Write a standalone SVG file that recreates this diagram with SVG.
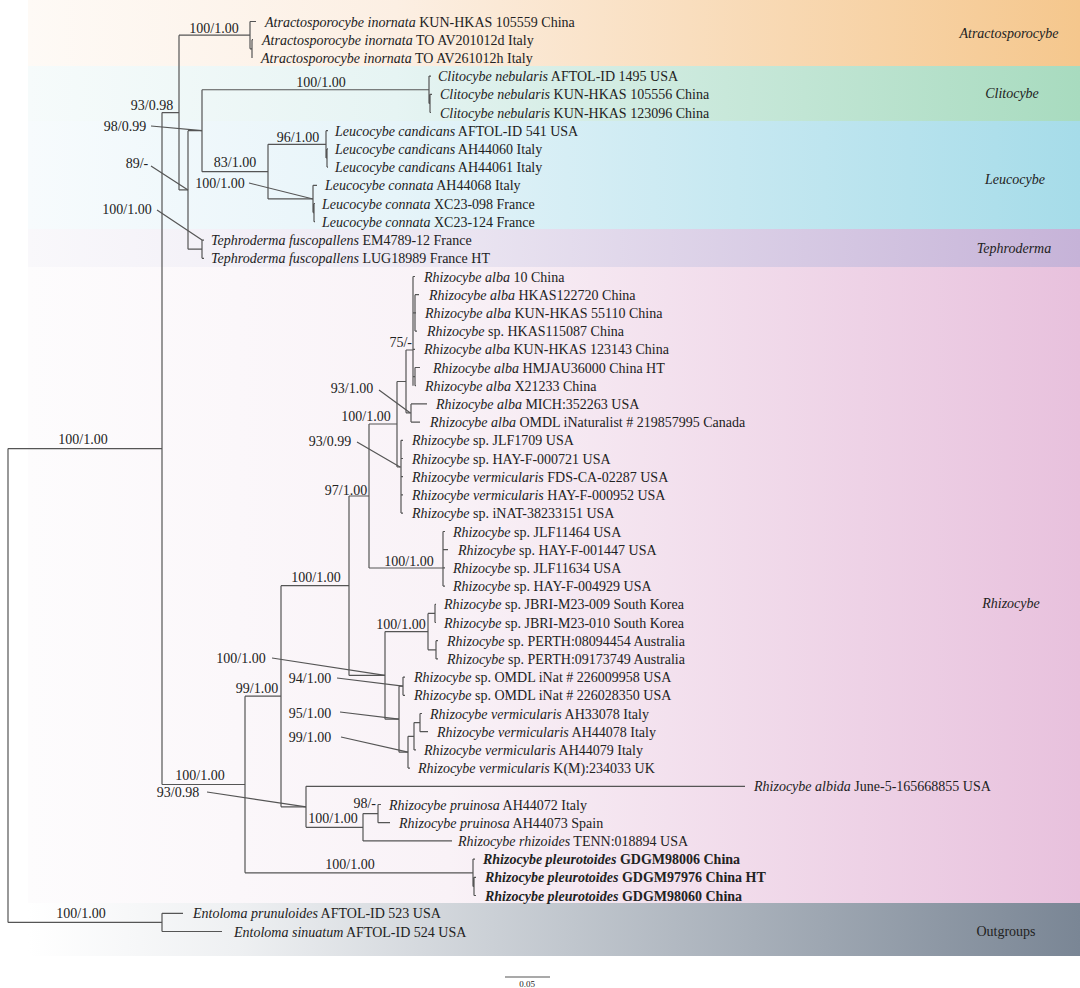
<svg xmlns="http://www.w3.org/2000/svg" width="1080" height="988" viewBox="0 0 1080 988">
<defs>
<linearGradient id="gA" x1="0" x2="1" y1="0" y2="0"><stop offset="0" stop-color="#fefaf6"/><stop offset="0.35" stop-color="#fcefe3"/><stop offset="1" stop-color="#f5c78d"/></linearGradient>
<linearGradient id="gC" x1="0" x2="1" y1="0" y2="0"><stop offset="0" stop-color="#f6fbfb"/><stop offset="0.35" stop-color="#e6f4f3"/><stop offset="1" stop-color="#a8dbbf"/></linearGradient>
<linearGradient id="gL" x1="0" x2="1" y1="0" y2="0"><stop offset="0" stop-color="#f7fbfd"/><stop offset="0.35" stop-color="#e6f4f9"/><stop offset="1" stop-color="#a6dce9"/></linearGradient>
<linearGradient id="gT" x1="0" x2="1" y1="0" y2="0"><stop offset="0" stop-color="#f9f8fb"/><stop offset="0.35" stop-color="#eeeaf4"/><stop offset="1" stop-color="#c6b3d8"/></linearGradient>
<linearGradient id="gR" x1="0" x2="1" y1="0" y2="0"><stop offset="0" stop-color="#fdfcfd"/><stop offset="0.4" stop-color="#f9f2f7"/><stop offset="1" stop-color="#e8c1dd"/></linearGradient>
<linearGradient id="gO" x1="0" x2="1" y1="0" y2="0"><stop offset="0" stop-color="#ffffff"/><stop offset="0.2" stop-color="#eef0f2"/><stop offset="1" stop-color="#7a8695"/></linearGradient>
</defs>
<style>
text{font-family:"Liberation Serif","Times New Roman",serif;fill:#222;}
.lf{font-size:14px;}
.sp{font-style:italic;}
.bd{font-weight:bold;}
.bs{font-size:14px;}
.gl{font-size:14px;font-style:italic;text-anchor:middle;}
.m{text-anchor:middle;}
.e{text-anchor:end;}
.br{fill:none;stroke:#555;stroke-width:1.2;}
</style>
<rect width="1080" height="988" fill="#ffffff"/>
<g id="bands">
<rect x="28" y="0" width="1052" height="66" fill="url(#gA)"/>
<rect x="28" y="66" width="1052" height="55" fill="url(#gC)"/>
<rect x="28" y="121" width="1052" height="108" fill="url(#gL)"/>
<rect x="28" y="229" width="1052" height="38" fill="url(#gT)"/>
<rect x="28" y="267" width="1052" height="636" fill="url(#gR)"/>
<rect x="28" y="903" width="1052" height="53" fill="url(#gO)"/>
</g>
<g id="connectors" class="br">
<path d="M8 448.6V922.4M8 448.6H162M8 922.4H162"/>
<path d="M162 913.3V931.5M162 913.3H183M162 931.5H222"/>
<path d="M162 112.55V784.5M162 112.55H179"/>
<path d="M179 35.15V189.95M179 35.15H250M179 189.95H188"/>
<path d="M250 21.5V48.8M250 21.5H256M250 48.8H252M252 39.7V57.9M252 39.7H253"/>
<path d="M188 130.7V249.2M188 130.7H202M188 249.2H202"/>
<path d="M202 89.75V171.65M202 89.75H429M202 171.65H268"/>
<path d="M429 76.1V103.4M429 76.1H431M429 103.4H430M430 94.3V112.5M430 94.3H432M430 112.5H431"/>
<path d="M202 240.1V258.3M202 240.1H204M202 258.3H204"/>
<path d="M268 144.35V198.95M268 144.35H326M268 198.95H313"/>
<path d="M326 130.7V158M326 130.7H328M326 158H327M327 148.9V167.1M327 148.9H328M327 167.1H328"/>
<path d="M313 185.3V212.6M313 185.3H317M313 212.6H314M314 203.5V221.7M314 203.5H315M314 221.7H315"/>
<path d="M162 784.5H245"/>
<path d="M245 696.2V872.8M245 696.2H281M245 872.8H473"/>
<path d="M473 859.1V886.4M473 859.1H475M473 886.4H474M474 877.3V895.5M474 877.3H476M474 895.5H476"/>
<path d="M281 585.7V806.8M281 585.7H349M281 806.8H306"/>
<path d="M306 786.3V827.3M306 786.3H745M306 827.3H363"/>
<path d="M363 813.6V840.9M363 813.6H378M363 840.9H452"/>
<path d="M378 804.5V822.7M378 804.5H381M378 822.7H390"/>
<path d="M349 496V675.4M349 496H369M349 675.4H385"/>
<path d="M369 424V568M369 424H397M369 568H443"/>
<path d="M397 381.5V467M397 381.5H406M397 467H401"/>
<path d="M406 350V412.8M406 350H413M406 412.8H411"/>
<path d="M413 276.5V385.7M413 276.5H415M413 312.9H415M415 294.7V331.1M415 294.7H419M415 312.9H416M415 331.1H417M413 349.3H415M413 376.6H415M415 367.5V385.7M415 367.5H420M415 385.7H416"/>
<path d="M411 403.9V422.1M411 403.9H427M411 422.1H420"/>
<path d="M401 440.3V513.1M401 440.3H403M401 458.5H403M401 476.7H403M401 494.9H403M401 513.1H403"/>
<path d="M443 531.5V586.1M443 531.5H445M443 549.7H448M443 567.9H445M443 586.1H445"/>
<path d="M385 631.6V719.2M385 631.6H428M385 719.2H399"/>
<path d="M428 613.4V649.8M428 613.4H435M428 649.8H436"/>
<path d="M435 604.3V622.5M435 604.3H436M435 622.5H436"/>
<path d="M436 640.7V658.9M436 640.7H438M436 658.9H438"/>
<path d="M399 686.2V752.2M399 686.2H403M399 752.2H408"/>
<path d="M403 677.1V695.3M403 677.1H405M403 695.3H405"/>
<path d="M408 736.3V768.1M408 736.3H414M408 768.1H410"/>
<path d="M414 722.6V749.9M414 722.6H420M414 749.9H416"/>
<path d="M420 713.5V731.7M420 713.5H422M420 731.7H428"/>
<path d="M151 126L202 130.7M151 166L188 190M249 183L313 199M157 210L202 240"/>
<path d="M379 390L410 412.8M357 442L400 467M272 658L385 675.4M337 678L403 686.2M340 712L399 719.2M341 737L408 752.2M207 792L306 806.8"/>
</g>
<g id="support" class="bs">
<text x="214" y="33" class="m">100/1.00</text>
<text x="321" y="87" class="m">100/1.00</text>
<text x="152" y="110" class="m">93/0.98</text>
<text x="125" y="131" class="m">98/0.99</text>
<text x="298" y="142" class="m">96/1.00</text>
<text x="235" y="167" class="m">83/1.00</text>
<text x="137" y="168" class="m">89/-</text>
<text x="220" y="188" class="m">100/1.00</text>
<text x="127" y="214" class="m">100/1.00</text>
<text x="83" y="444" class="m">100/1.00</text>
<text x="81" y="918" class="m">100/1.00</text>
<text x="412" y="347" class="e">75/-</text>
<text x="352" y="393" class="m">93/1.00</text>
<text x="366" y="421" class="m">100/1.00</text>
<text x="330" y="446" class="m">93/0.99</text>
<text x="346" y="495" class="m">97/1.00</text>
<text x="409" y="566" class="m">100/1.00</text>
<text x="316" y="582" class="m">100/1.00</text>
<text x="401" y="629" class="m">100/1.00</text>
<text x="241" y="663" class="m">100/1.00</text>
<text x="310" y="683" class="m">94/1.00</text>
<text x="257" y="693" class="m">99/1.00</text>
<text x="310" y="718" class="m">95/1.00</text>
<text x="310" y="742" class="m">99/1.00</text>
<text x="200" y="780" class="m">100/1.00</text>
<text x="178" y="797" class="m">93/0.98</text>
<text x="376" y="808" class="e">98/-</text>
<text x="333" y="823" class="m">100/1.00</text>
<text x="350" y="869" class="m">100/1.00</text>
</g>
<g id="leaves" class="lf">
<g id="leaf-00"><text x="265" y="26.5"><tspan class="sp">Atractosporocybe inornata</tspan> KUN-HKAS 105559 China</text></g>
<g id="leaf-01"><text x="262" y="44.7"><tspan class="sp">Atractosporocybe inornata</tspan> TO AV201012d Italy</text></g>
<g id="leaf-02"><text x="261" y="62.9"><tspan class="sp">Atractosporocybe inornata</tspan> TO AV261012h Italy</text></g>
<g id="leaf-03"><text x="438" y="81.1"><tspan class="sp">Clitocybe nebularis</tspan> AFTOL-ID 1495 USA</text></g>
<g id="leaf-04"><text x="440" y="99.3"><tspan class="sp">Clitocybe nebularis</tspan> KUN-HKAS 105556 China</text></g>
<g id="leaf-05"><text x="440" y="117.5"><tspan class="sp">Clitocybe nebularis</tspan> KUN-HKAS 123096 China</text></g>
<g id="leaf-06"><text x="335" y="135.7"><tspan class="sp">Leucocybe candicans</tspan> AFTOL-ID 541 USA</text></g>
<g id="leaf-07"><text x="335" y="153.9"><tspan class="sp">Leucocybe candicans</tspan> AH44060 Italy</text></g>
<g id="leaf-08"><text x="335" y="172.1"><tspan class="sp">Leucocybe candicans</tspan> AH44061 Italy</text></g>
<g id="leaf-09"><text x="325" y="190.3"><tspan class="sp">Leucocybe connata</tspan> AH44068 Italy</text></g>
<g id="leaf-10"><text x="322" y="208.5"><tspan class="sp">Leucocybe connata</tspan> XC23-098 France</text></g>
<g id="leaf-11"><text x="322" y="226.7"><tspan class="sp">Leucocybe connata</tspan> XC23-124 France</text></g>
<g id="leaf-12"><text x="211" y="245.1"><tspan class="sp">Tephroderma fuscopallens</tspan> EM4789-12 France</text></g>
<g id="leaf-13"><text x="211" y="263.3"><tspan class="sp">Tephroderma fuscopallens</tspan> LUG18989 France HT</text></g>
<g id="leaf-14"><text x="424" y="281.5"><tspan class="sp">Rhizocybe alba</tspan> 10 China</text></g>
<g id="leaf-15"><text x="429" y="299.7"><tspan class="sp">Rhizocybe alba</tspan> HKAS122720 China</text></g>
<g id="leaf-16"><text x="425" y="317.9"><tspan class="sp">Rhizocybe alba</tspan> KUN-HKAS 55110 China</text></g>
<g id="leaf-17"><text x="427" y="336.1"><tspan class="sp">Rhizocybe</tspan> sp. HKAS115087 China</text></g>
<g id="leaf-18"><text x="424" y="354.3"><tspan class="sp">Rhizocybe alba</tspan> KUN-HKAS 123143 China</text></g>
<g id="leaf-19"><text x="433" y="372.5"><tspan class="sp">Rhizocybe alba</tspan> HMJAU36000 China HT</text></g>
<g id="leaf-20"><text x="425" y="390.7"><tspan class="sp">Rhizocybe alba</tspan> X21233 China</text></g>
<g id="leaf-21"><text x="436" y="408.9"><tspan class="sp">Rhizocybe alba</tspan> MICH:352263 USA</text></g>
<g id="leaf-22"><text x="430" y="427.1"><tspan class="sp">Rhizocybe alba</tspan> OMDL iNaturalist # 219857995 Canada</text></g>
<g id="leaf-23"><text x="412" y="445.3"><tspan class="sp">Rhizocybe</tspan> sp. JLF1709 USA</text></g>
<g id="leaf-24"><text x="412" y="463.5"><tspan class="sp">Rhizocybe</tspan> sp. HAY-F-000721 USA</text></g>
<g id="leaf-25"><text x="412" y="481.7"><tspan class="sp">Rhizocybe vermicularis</tspan> FDS-CA-02287 USA</text></g>
<g id="leaf-26"><text x="412" y="499.9"><tspan class="sp">Rhizocybe vermicularis</tspan> HAY-F-000952 USA</text></g>
<g id="leaf-27"><text x="412" y="518.1"><tspan class="sp">Rhizocybe</tspan> sp. iNAT-38233151 USA</text></g>
<g id="leaf-28"><text x="453" y="536.5"><tspan class="sp">Rhizocybe</tspan> sp. JLF11464 USA</text></g>
<g id="leaf-29"><text x="458" y="554.7"><tspan class="sp">Rhizocybe</tspan> sp. HAY-F-001447 USA</text></g>
<g id="leaf-30"><text x="453" y="572.9"><tspan class="sp">Rhizocybe</tspan> sp. JLF11634 USA</text></g>
<g id="leaf-31"><text x="453" y="591.1"><tspan class="sp">Rhizocybe</tspan> sp. HAY-F-004929 USA</text></g>
<g id="leaf-32"><text x="444" y="609.3"><tspan class="sp">Rhizocybe</tspan> sp. JBRI-M23-009 South Korea</text></g>
<g id="leaf-33"><text x="444" y="627.5"><tspan class="sp">Rhizocybe</tspan> sp. JBRI-M23-010 South Korea</text></g>
<g id="leaf-34"><text x="447" y="645.7"><tspan class="sp">Rhizocybe</tspan> sp. PERTH:08094454 Australia</text></g>
<g id="leaf-35"><text x="447" y="663.9"><tspan class="sp">Rhizocybe</tspan> sp. PERTH:09173749 Australia</text></g>
<g id="leaf-36"><text x="414" y="682.1"><tspan class="sp">Rhizocybe</tspan> sp. OMDL iNat # 226009958 USA</text></g>
<g id="leaf-37"><text x="414" y="700.3"><tspan class="sp">Rhizocybe</tspan> sp. OMDL iNat # 226028350 USA</text></g>
<g id="leaf-38"><text x="430" y="718.5"><tspan class="sp">Rhizocybe vermicularis</tspan> AH33078 Italy</text></g>
<g id="leaf-39"><text x="437" y="736.7"><tspan class="sp">Rhizocybe vermicularis</tspan> AH44078 Italy</text></g>
<g id="leaf-40"><text x="424" y="754.9"><tspan class="sp">Rhizocybe vermicularis</tspan> AH44079 Italy</text></g>
<g id="leaf-41"><text x="418" y="773.1"><tspan class="sp">Rhizocybe vermicularis</tspan> K(M):234033 UK</text></g>
<g id="leaf-42"><text x="754" y="791.3"><tspan class="sp">Rhizocybe albida</tspan> June-5-165668855 USA</text></g>
<g id="leaf-43"><text x="389" y="809.5"><tspan class="sp">Rhizocybe pruinosa</tspan> AH44072 Italy</text></g>
<g id="leaf-44"><text x="399" y="827.7"><tspan class="sp">Rhizocybe pruinosa</tspan> AH44073 Spain</text></g>
<g id="leaf-45"><text x="458" y="845.9"><tspan class="sp">Rhizocybe rhizoides</tspan> TENN:018894 USA</text></g>
<g id="leaf-46"><text x="483" y="864.1" class="bd"><tspan class="sp">Rhizocybe pleurotoides</tspan> GDGM98006 China</text></g>
<g id="leaf-47"><text x="485" y="882.3" class="bd"><tspan class="sp">Rhizocybe pleurotoides</tspan> GDGM97976 China HT</text></g>
<g id="leaf-48"><text x="485" y="900.5" class="bd"><tspan class="sp">Rhizocybe pleurotoides</tspan> GDGM98060 China</text></g>
<g id="leaf-49"><text x="193" y="918.3"><tspan class="sp">Entoloma prunuloides</tspan> AFTOL-ID 523 USA</text></g>
<g id="leaf-50"><text x="234" y="936.5"><tspan class="sp">Entoloma sinuatum</tspan> AFTOL-ID 524 USA</text></g>
</g>
<g id="clade-labels">
<g id="clade-atractosporocybe"><text x="1009" y="38" class="gl">Atractosporocybe</text></g>
<g id="clade-clitocybe"><text x="1012" y="98" class="gl">Clitocybe</text></g>
<g id="clade-leucocybe"><text x="1015" y="184" class="gl">Leucocybe</text></g>
<g id="clade-tephroderma"><text x="1014" y="253" class="gl">Tephroderma</text></g>
<g id="clade-rhizocybe"><text x="1011" y="608" class="gl">Rhizocybe</text></g>
<g id="clade-outgroups"><text x="1006" y="936" class="m" font-size="14">Outgroups</text></g>
</g>
<g id="scale-bar">
<path d="M505 977H550" class="br"/>
<text x="527" y="987" class="m" font-size="9">0.05</text>
</g>
</svg>
